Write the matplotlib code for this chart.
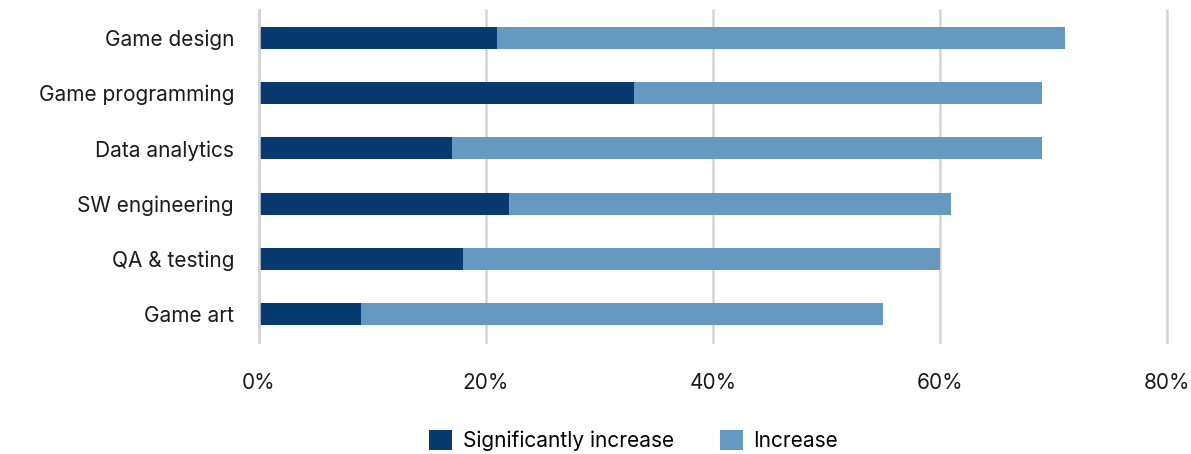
import matplotlib.pyplot as plt
from matplotlib.ticker import PercentFormatter

categories = ["Game art", "QA & testing", "SW engineering", "Data analytics",
              "Game programming", "Game design"]
significant = [9, 18, 22, 17, 33, 21]
increase = [46, 42, 39, 52, 36, 50]

dark = "#073a6e"
light = "#6699c0"

plt.rcParams["font.family"] = ["Inter", "DejaVu Sans"]

fig = plt.figure(figsize=(11.91, 4.54), dpi=100)
ax = fig.add_axes([0.2175, 0.2467, 0.7624, 0.7313])

ax.barh(categories, significant, height=0.4, color=dark, label="Significantly increase")
ax.barh(categories, increase, left=significant, height=0.4, color=light, label="Increase")

ax.set_xlim(0, 80)
ax.set_ylim(-0.5, 5.5)
ax.set_xticks([0, 20, 40, 60, 80])
ax.xaxis.set_major_formatter(PercentFormatter(decimals=0))
ax.grid(axis="x", color="#d4d4d4", linewidth=1.8)
for gl in ax.get_xgridlines():
    gl.set_clip_on(False)
ax.set_axisbelow(True)
for s in ["top", "right", "bottom"]:
    ax.spines[s].set_visible(False)
ax.spines["left"].set_color("#d4d4d4")
ax.spines["left"].set_linewidth(1.8)
ax.tick_params(axis="both", length=0, labelsize=15, colors="#1a1a1a")
ax.tick_params(axis="x", pad=22)
ax.tick_params(axis="y", pad=18)

fig.legend(*ax.get_legend_handles_labels(), loc="center", bbox_to_anchor=(0.532, 0.03),
           ncol=2, frameon=False, fontsize=15, handlelength=1.1, handleheight=1.1,
           columnspacing=2.2, handletextpad=0.5)

fig.savefig("out.png", dpi=100)
